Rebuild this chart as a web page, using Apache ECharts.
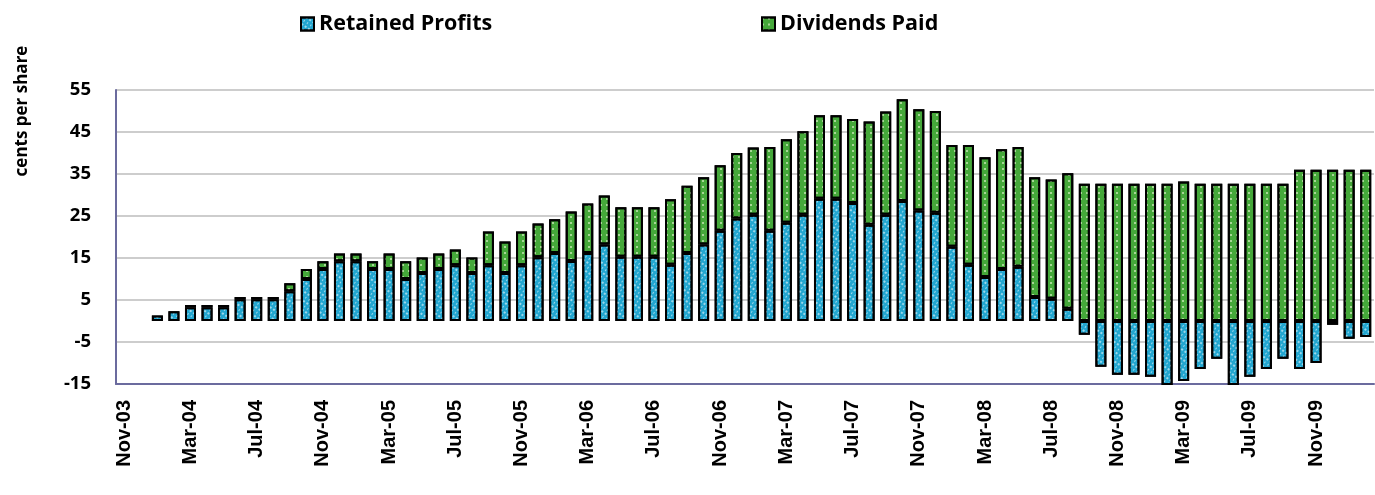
<!DOCTYPE html>
<html>
<head>
<meta charset="utf-8">
<script src="https://cdn.jsdelivr.net/npm/echarts@6/dist/echarts.min.js"></script>
<style>
  html, body { margin: 0; padding: 0; background: #fff; }
  #main { width: 1375px; height: 495px; }
</style>
</head>
<body>
<div id="main"></div>
<script>
// months on the category axis (Nov-03 .. Feb-10)
var months = [
  'Nov-03','Dec-03',
  'Jan-04','Feb-04','Mar-04','Apr-04','May-04','Jun-04','Jul-04','Aug-04','Sep-04','Oct-04','Nov-04','Dec-04',
  'Jan-05','Feb-05','Mar-05','Apr-05','May-05','Jun-05','Jul-05','Aug-05','Sep-05','Oct-05','Nov-05','Dec-05',
  'Jan-06','Feb-06','Mar-06','Apr-06','May-06','Jun-06','Jul-06','Aug-06','Sep-06','Oct-06','Nov-06','Dec-06',
  'Jan-07','Feb-07','Mar-07','Apr-07','May-07','Jun-07','Jul-07','Aug-07','Sep-07','Oct-07','Nov-07','Dec-07',
  'Jan-08','Feb-08','Mar-08','Apr-08','May-08','Jun-08','Jul-08','Aug-08','Sep-08','Oct-08','Nov-08','Dec-08',
  'Jan-09','Feb-09','Mar-09','Apr-09','May-09','Jun-09','Jul-09','Aug-09','Sep-09','Oct-09','Nov-09','Dec-09',
  'Jan-10','Feb-10'
];

// cents per share
var retainedProfits = [
  null, null,
  1.3, 2.3, 3.3, 3.3, 3.3, 5.2, 5.2, 5.2, 7.1, 10.0, 12.4, 14.2,
  14.2, 12.4, 12.4, 10.0, 11.4, 12.4, 13.3, 11.4, 13.3, 11.4, 13.3, 15.2,
  16.2, 14.3, 16.2, 18.2, 15.3, 15.3, 15.3, 13.4, 16.2, 18.2, 21.5, 24.4,
  25.3, 21.5, 23.4, 25.3, 29.1, 29.1, 28.1, 22.9, 25.3, 28.6, 26.3, 25.8,
  17.7, 13.4, 10.5, 12.4, 12.9, 5.7, 5.3, 2.9, -3.3, -10.9, -12.8, -12.8,
  -13.3, -15.6, -14.3, -11.4, -9.0, -15.6, -13.3, -11.4, -9.0, -11.4, -10.0, -0.9,
  -4.2, -3.8
];

var dividendsPaid = [
  null, null,
  null, null, 0.5, 0.5, 0.5, 0.5, 0.5, 0.5, 1.9, 2.4, 1.8, 1.9,
  1.9, 1.8, 3.7, 4.2, 3.7, 3.7, 3.7, 3.7, 8.0, 7.5, 8.0, 8.0,
  8.0, 11.8, 11.8, 11.7, 11.8, 11.8, 11.8, 15.6, 16.0, 16.0, 15.6, 15.6,
  16.0, 19.9, 19.9, 19.9, 19.9, 19.9, 20.0, 24.6, 24.6, 24.2, 24.1, 24.2,
  24.2, 28.5, 28.5, 28.5, 28.5, 28.5, 28.4, 32.3, 32.7, 32.7, 32.7, 32.7,
  32.7, 32.7, 33.2, 32.7, 32.7, 32.7, 32.7, 32.7, 32.7, 36.0, 36.0, 36.0,
  36.0, 36.0
];

var yTicks = { min: -15, max: 55, step: 10 };

var boldFont = 'Open Sans';

var chart = echarts.init(document.getElementById('main'));
chart.setOption({
  animation: false,
  backgroundColor: '#fff',
  textStyle: { fontFamily: boldFont, fontWeight: 'bold', color: '#000' },
  legend: [
    {
      data: ['Retained Profits'],
      left: 295, top: 8,
      itemWidth: 13, itemHeight: 13,
      icon: 'rect',
      textStyle: { fontFamily: boldFont, fontWeight: 'bold', fontSize: 21.5, color: '#000' }
    },
    {
      data: ['Dividends Paid'],
      left: 756, top: 8,
      itemWidth: 13, itemHeight: 13,
      icon: 'rect',
      textStyle: { fontFamily: boldFont, fontWeight: 'bold', fontSize: 21.5, color: '#000' }
    }
  ],
  graphic: [{
    type: 'text',
    x: 22, y: 111,
    rotation: Math.PI / 2,
    style: {
      text: 'cents per share',
      font: 'bold 17px "Open Sans"',
      fill: '#000',
      align: 'center',
      verticalAlign: 'middle'
    }
  }],
  grid: { left: 116, right: 1, top: 90, bottom: 111, containLabel: false },
  xAxis: {
    type: 'category',
    data: months,
    boundaryGap: true,
    axisLine: { onZero: false, lineStyle: { color: '#6b6b9e', width: 2 } },
    axisTick: { show: false },
    axisLabel: {
      interval: 3,
      rotate: 90,
      margin: 16,
      fontFamily: 'Liberation Sans',
      fontWeight: 'bold',
      fontSize: 20,
      color: '#000'
    },
    splitLine: { show: false }
  },
  yAxis: {
    type: 'value',
    min: yTicks.min, max: yTicks.max, interval: yTicks.step,
    axisLine: { show: true, lineStyle: { color: '#6b6b9e', width: 2 } },
    axisTick: { show: false },
    axisLabel: { margin: 25, fontFamily: boldFont, fontWeight: 'bold', fontSize: 18.5, color: '#000' },
    splitLine: { lineStyle: { color: '#bdbdbd', width: 1.5 } }
  },
  series: [
    {
      name: 'Retained Profits',
      type: 'bar',
      stack: 'eps',
      barWidth: 11,
      data: retainedProfits,
      itemStyle: {
        color: '#22a6d0',
        borderColor: '#000',
        borderWidth: 2,
        decal: {
          symbol: 'rect',
          symbolSize: 1,
          color: 'rgba(255,255,255,0.55)',
          dashArrayX: [[1.5, 2], [1, 2.5]],
          dashArrayY: [2, 1.5],
          rotation: 0.6
        }
      }
    },
    {
      name: 'Dividends Paid',
      type: 'bar',
      stack: 'eps',
      barWidth: 11,
      data: dividendsPaid,
      itemStyle: {
        color: '#45a83a',
        borderColor: '#000',
        borderWidth: 2,
        decal: {
          symbol: 'rect',
          symbolSize: 1,
          color: 'rgba(220,240,200,0.65)',
          dashArrayX: [1.5, 4],
          dashArrayY: [1.5, 4]
        }
      }
    }
  ]
});
</script>
</body>
</html>
